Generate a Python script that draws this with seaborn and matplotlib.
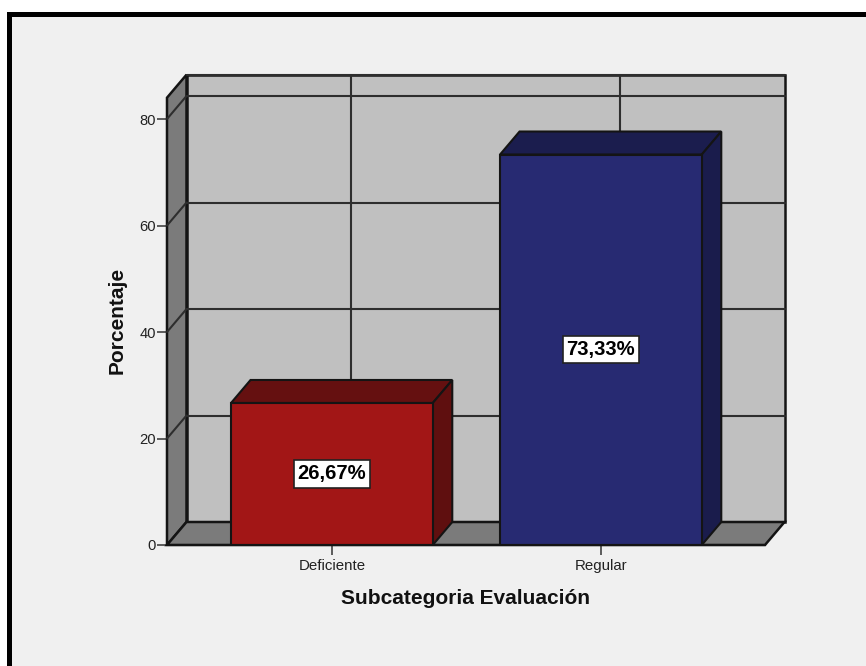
import matplotlib
matplotlib.use("Agg")
import matplotlib.pyplot as plt
import pandas as pd
import seaborn as sns
from matplotlib.patches import Polygon, Rectangle

categories = ["Deficiente", "Regular"]
percentages = [26.67, 73.33]
value_labels = ["26,67%", "73,33%"]
y_ticks = [0, 20, 40, 60, 80]
front_colors = ["#a21616", "#272a72"]
top_colors = ["#651010", "#1b1d4e"]
side_colors = ["#5f0f0f", "#1a1c4c"]

W, H = 866, 666
LEFT, RIGHT, BASE, TOP = 167, 765, 545, 97.7
Y_MAX = 84
BAR_WIDTH = 0.75
EDGE = "#141414"

sns.set_theme(style="white")
plt.rcParams["font.family"] = ["Liberation Sans", "DejaVu Sans"]

fig = plt.figure(figsize=(W / 100, H / 100), dpi=100, facecolor="white")

# Panel with the heavy frame along its top and left edges
fig.add_artist(Rectangle((7.5 / W, 0), 1, 1 - 12 / H, transform=fig.transFigure,
                         facecolor="black", edgecolor="none", zorder=-3))
fig.add_artist(Rectangle((12 / W, 0), 1, 1 - 16.5 / H, transform=fig.transFigure,
                         facecolor="#f0f0f0", edgecolor="none", zorder=-2))

ax = fig.add_axes([LEFT / W, 1 - BASE / H, (RIGHT - LEFT) / W, (BASE - TOP) / H])
ax.patch.set_alpha(0)

df = pd.DataFrame({"categoria": categories, "porcentaje": percentages})
sns.barplot(data=df, x="categoria", y="porcentaje", hue="categoria",
            palette=front_colors, width=BAR_WIDTH, legend=False, ax=ax,
            saturation=1, edgecolor=EDGE, linewidth=1.5, zorder=6)

x0, x1 = -0.613, 1.61
ax.set_xlim(x0, x1)
ax.set_ylim(0, Y_MAX)

# Oblique depth of the 3D box, expressed in data units
dx = 19.5 / 269
dy = 23 / ((BASE - TOP) / Y_MAX)


def face(points, color, z, lw=1.8):
    ax.add_patch(Polygon(points, closed=True, facecolor=color, edgecolor=EDGE,
                         linewidth=lw, clip_on=False, zorder=z, joinstyle="miter"))


# Back wall, side wall and floor
face([(x0 + dx, dy), (x1 + dx, dy), (x1 + dx, Y_MAX + dy), (x0 + dx, Y_MAX + dy)], "#c0c0c0", 1)
face([(x0, 0), (x0 + dx, dy), (x0 + dx, Y_MAX + dy), (x0, Y_MAX)], "#7b7b7b", 2)
face([(x0, 0), (x1, 0), (x1 + dx, dy), (x0 + dx, dy)], "#7b7b7b", 2)

# Grid drawn on the walls
grid_kw = dict(color="#2e2e2e", linewidth=1.5, clip_on=False, zorder=3)
for v in y_ticks[1:] + [Y_MAX]:
    ax.plot([x0 + dx, x1 + dx], [v + dy, v + dy], **grid_kw)
for v in y_ticks[1:]:
    ax.plot([x0, x0 + dx], [v, v + dy], **grid_kw)
for i in range(len(categories)):
    ax.plot([i + dx, i + dx], [dy, Y_MAX + dy], **grid_kw)

# Top and side faces of each bar, with its value label
for i, v in enumerate(percentages):
    l, r = i - BAR_WIDTH / 2, i + BAR_WIDTH / 2
    face([(l, v), (r, v), (r + dx, v + dy), (l + dx, v + dy)], top_colors[i], 5, 1.5)
    face([(r, 0), (r + dx, dy), (r + dx, v + dy), (r, v)], side_colors[i], 5, 1.5)
    ax.text(i, v / 2, value_labels[i], ha="center", va="center", fontsize=14.6,
            fontweight="bold", color="black", zorder=8,
            bbox=dict(boxstyle="square,pad=0.2", facecolor="white",
                      edgecolor="#222222", linewidth=1.2))

sns.despine(ax=ax, left=True, bottom=False, top=True, right=True)
ax.spines["bottom"].set_color(EDGE)
ax.spines["bottom"].set_linewidth(1.5)
ax.spines["bottom"].set_zorder(7)

ax.set_yticks(y_ticks)
ax.set_xticks(range(len(categories)))
ax.set_xticklabels(categories)
ax.tick_params(axis="both", which="major", length=7, width=1.1, color="#333333",
               labelcolor="#222222", left=True, bottom=True)
ax.tick_params(axis="x", labelsize=10.8, pad=3)
ax.tick_params(axis="y", labelsize=10.6, pad=1)

fig.text(466 / W, 1 - 598 / H, "Subcategoria Evaluación", ha="center", va="center",
         fontsize=15, fontweight="bold", color="#111111")
fig.text(117 / W, 1 - 320 / H, "Porcentaje", ha="center", va="center", rotation=90,
         fontsize=15, fontweight="bold", color="#111111")
ax.set_xlabel("")
ax.set_ylabel("")

fig.savefig("out.png", dpi=100)
